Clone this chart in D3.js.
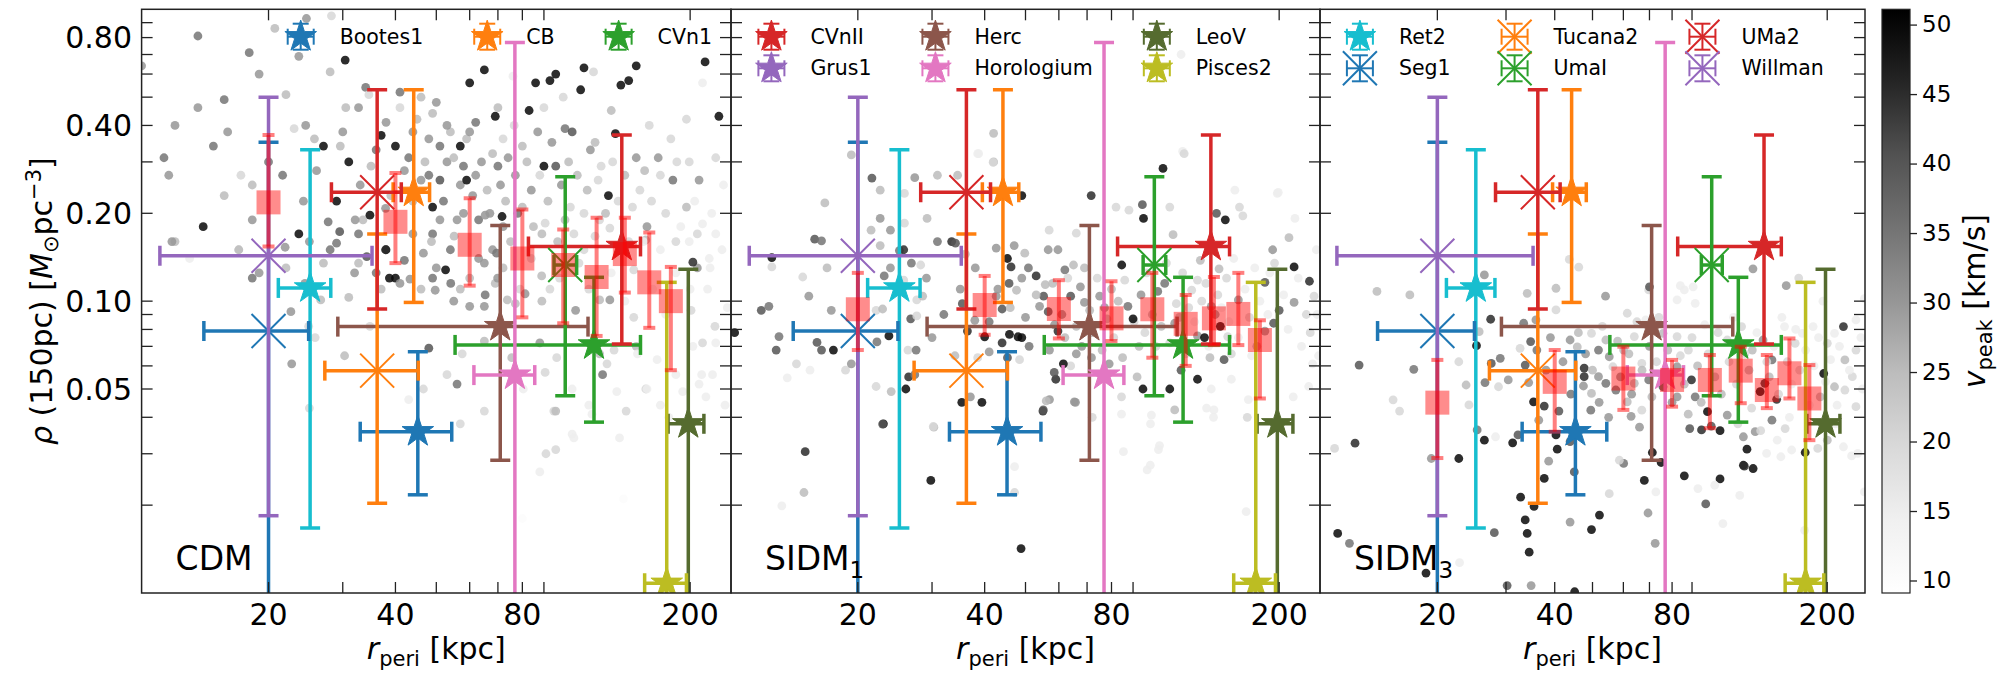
<!DOCTYPE html>
<html>
<head>
<meta charset="utf-8">
<script src="https://cdn.jsdelivr.net/npm/d3@7"></script>
<style>
body { margin: 0; background: #fff; }
svg text { font-family: "DejaVu Sans", sans-serif; fill: #000; }
</style>
</head>
<body>
<div id="chart"></div>
<script>
// observed dwarfs: r_peri [kpc] with range, rho(150pc) with range
const dwarfNames   = ["Bootes1","CB","CVn1","CVnII","Grus1","Herc","Horologium","LeoV","Pisces2","Ret2","Seg1","Tucana2","UmaI","UMa2","Willman"];
const dwarfColors  = ["#1f77b4","#ff7f0e","#2ca02c","#d62728","#9467bd","#8c564b","#e377c2","#556b2f","#bcbd22","#17becf","#1f77b4","#ff7f0e","#2ca02c","#d62728","#9467bd"];
const dwarfMarkers = ["star","star","star","star","star","star","star","star","star","star","x","x","x","x","x"];
const dwarfR     = [45.2, 44.2, 118.3, 137.7, null, 70.9, 76.8, 198, 176, 25.1, 20, 36.2, 101.1, 36.2, 20];
const dwarfRLo   = [33.0, 39.5, 55.4, 82.7, null, 29.2, 61.4, 177.3, 156, 21.1, 14.05, 27.2, 95.1, 28.2, 11.05];
const dwarfRHi   = [54.4, 48.2, 152.5, 152.5, null, 114.5, 85.6, 215.6, 196, 28.1, 24.9, 45.3, 107.6, 41.3, 35.2];
const dwarfRho   = [0.0357, 0.236, 0.0708, 0.154, null, 0.0818, 0.0558, 0.038, 0.0108, 0.111, 0.079, 0.0578, 0.133, 0.236, 0.143];
const dwarfRhoLo = [0.0217, 0.099, 0.0385, 0.0713, null, 0.0285, 0.005, 0.005, 0.003, 0.0167, 0.005, 0.0203, 0.0474, 0.094, 0.0184];
const dwarfRhoHi = [0.0671, 0.53, 0.1207, 0.371, null, 0.1815, 0.77, 0.1286, 0.116, 0.33, 0.35, 0.17, 0.267, 0.53, 0.50];

// simulated medians (red squares)
const simR = [20, 40, 60, 80, 100, 120, 140, 160, 180];
const cdmMed = [0.218, 0.187, 0.156, 0.140, 0.133, 0.121, 0.145, 0.116, 0.100];
const cdmLo  = [0.154, 0.135, 0.113, 0.088, 0.084, 0.076, 0.107, 0.081, 0.058];
const cdmHi  = [0.371, 0.275, 0.225, 0.206, 0.176, 0.193, 0.193, 0.172, 0.131];
const sidm1Med = [0.0938, 0.097, 0.094, 0.0873, 0.0938, 0.0836, 0.0873, 0.0904, 0.0736];
const sidm1Lo  = [0.068, 0.0767, 0.0745, 0.073, 0.064, 0.060, 0.0707, 0.0707, 0.0464];
const sidm1Hi  = [0.125, 0.122, 0.118, 0.117, 0.125, 0.105, 0.121, 0.125, 0.086];
const sidm3Med = [0.0449, 0.0529, 0.0543, 0.0537, 0.0537, 0.0578, 0.0496, 0.0566, 0.0464];
const sidm3Lo  = [0.029, 0.0357, 0.0424, 0.0435, 0.0367, 0.0447, 0.043, 0.0464, 0.0334];
const sidm3Hi  = [0.0629, 0.068, 0.0698, 0.0629, 0.0654, 0.0698, 0.0654, 0.0745, 0.0604];

// simulated subhaloes: [r_peri, rho150, v_peak]
const cdmPts = [
[10,0.64,30],[13.6,0.81,35],[18,0.71,35],[19,0.6,30],[20.7,0.86,25],[23.6,0.69,30],[24.6,0.93,30],[28,0.61,25],[28.2,0.95,20],[22,0.51,25],
[15.7,0.49,35],[13.6,0.46,30],[11.3,0.31,35],[11.6,0.27,30],[14.8,0.34,35],[17.2,0.27,20],[18.3,0.25,25],[15.7,0.23,25],[18.3,0.19,30],[12,0.16,25],
[17,0.15,20],[19,0.125,30],[23,0.39,20],[24.5,0.4,30],[25.7,0.36,25],[21.6,0.27,35],[24.2,0.22,30],[29.6,0.34,25],[30.5,0.46,25],[32.7,0.46,30],
[34,0.54,35],[34.6,0.51,20],[41,0.46,20],[41,0.52,35],[45,0.42,25],[50,0.48,30],[44,0.38,30],[51,0.34,35],[54,0.38,25],[53,0.3,30],
[57,0.25,30],[48,0.27,35],[51,0.26,40],[62,0.27,30],[68,0.32,25],[63,0.19,35],[71,0.25,30],[72,0.36,20],[76,0.59,15],[76.5,0.4,20],
[80,0.34,25],[90,0.46,20],[96,0.29,40],[101,0.39,35],[105,0.38,40],[118,0.61,20],[116,0.33,30],[123,0.29,20],[122,0.19,20],[149,0.31,30],
[156,0.28,25],[168,0.31,30],[170,0.27,20],[182,0.26,35],[196,0.42,20],[199,0.3,20],[210,0.26,30],[214,0.56,15],[230,0.31,20],[196,0.21,25],
[208,0.17,20],[158,0.18,30],[143,0.16,20],[170,0.15,15],[199,0.16,15],[222,0.14,15],[208,0.13,30],[101,0.19,25],[106,0.17,20],[89,0.17,25],
[80,0.21,25],[72,0.18,30],[63,0.14,30],[68,0.15,30],[54,0.15,35],[51,0.19,30],[49,0.17,35],[44,0.17,30],[33.5,0.19,25],[32.7,0.17,35],
[28,0.15,35],[27,0.135,25],[32.7,0.135,25],[37,0.11,25],[46,0.11,25],[50,0.13,30],[57,0.11,25],[69,0.115,25],[79,0.11,20],[93,0.11,20],
[109,0.135,20],[130,0.125,15],[163,0.11,15],[185,0.125,15],[220,0.11,15],[230,0.17,15],
[30.4,0.67,50],[60,0.56,50],[65,0.62,50],[69,0.43,50],[86,0.56,50],[93,0.57,50],[96,0.6,50],[112,0.63,50],[110,0.53,50],[143,0.57,50],
[149,0.64,50],[137,0.55,50],[83,0.45,50],[90,0.29,50],[133,0.375,50],[128,0.23,50],[37,0.37,50],[40,0.34,50],[31,0.3,50],[59,0.26,50],
[14,0.18,50],[27,0.34,50],[217,0.66,50],[234,0.43,50],[40,0.12,50],[38,0.15,50],[23.6,0.17,50],[49,0.21,50],[29,0.22,50],[57,0.34,50],
[11.8,0.16,30],[13,0.14,15],[17,0.15,25],[18.3,0.12,35],[22.6,0.092,30],[22.7,0.061,30],[25.8,0.075,20],[31,0.103,25],[30.3,0.065,25],[48,0.069,40],
[56,0.052,35],[53,0.056,20],[57.6,0.066,20],[65,0.073,25],[88,0.072,30],[95,0.042,20],[124,0.056,35],[141,0.042,20],[157,0.05,20],[201,0.093,20],
[214,0.072,20],[226,0.056,15],[218,0.047,15],[242,0.044,15],[134,0.049,15],[192,0.049,15],[178,0.04,15],[149,0.07,25],[122,0.066,25],[107,0.093,30],
[89,0.1,25],[77,0.098,25],[65,0.096,30],[55,0.1,30],[49,0.12,35],[41,0.115,30],[36,0.125,35],[32,0.125,30],[223,0.13,15],[238,0.15,15],
[185,0.16,20],[105,0.035,15],[115,0.044,15],[57,0.038,20],[91,0.03,20],[96,0.031,20],[88,0.026,15],[106,0.034,15],[136,0.034,15],[139,0.021,10],
[80,0.018,10],[96,0.042,25],[127,0.061,20],[25,0.043,20],[158,0.05,15],[170,0.044,15],[213,0.056,15],[230,0.072,15],
[32.1,0.19,30],[34.8,0.197,50],[37.9,0.208,30],[29.5,0.173,40],[27.7,0.187,35],[29,0.158,35],[34.2,0.142,40],[37.9,0.15,45],[38.7,0.12,50],[42,0.138,35],
[43.3,0.119,30],[46.6,0.146,30],[48.7,0.16,25],[52.6,0.128,50],[49.7,0.109,30],[54.1,0.115,35],[55.1,0.167,25],[58,0.2,30],[65.3,0.197,30],[71.6,0.195,50],
[69.5,0.146,35],[65,0.135,30],[69.9,0.12,30],[65.3,0.105,35],[60,0.096,30],[73.7,0.101,25],[81.2,0.106,30],[88.9,0.122,25],[90.6,0.185,20],[112,0.2,20],
[119,0.167,20],[129,0.178,20],[122,0.101,25],[129,0.101,30],[147,0.128,20],[157,0.162,25],[147,0.088,20],[132,0.068,20],[167,0.063,15],[150,0.066,15],
[185,0.056,15],[210,0.052,15],[203,0.136,45],[214,0.184,15],[203,0.07,15],[229,0.082,20],[46.6,0.05,20],[43,0.046,15],[65,0.042,20],[80.4,0.05,15],
[105,0.05,15],[117,0.041,15],[75.5,0.064,25],[90.6,0.057,20],[96.5,0.064,20],[24.9,0.082,20],[26.6,0.101,25],[21.9,0.153,30],[24.4,0.115,30],[34.8,0.082,20],
[33,0.25,30],[35,0.29,25],[36,0.33,35],[38,0.41,30],[39,0.23,25],[42,0.28,30],[43,0.31,35],[44,0.22,25],[46,0.26,30],[47,0.3,25],
[48,0.36,30],[49,0.44,25],[52,0.22,35],[53,0.4,30],[55,0.31,25],[56,0.19,30],[58,0.29,35],[59,0.36,25],[61,0.23,30],[62,0.41,35],
[64,0.3,30],[66,0.24,25],[67,0.2,30],[70,0.29,35],[73,0.22,25],[74,0.31,30],[75,0.16,25],[77,0.27,30],[78,0.2,35],[82,0.3,25],
[84,0.24,30],[85,0.18,25],[87,0.38,30],[88,0.27,20],[92,0.22,25],[94,0.35,30],[97,0.16,25],[99,0.25,30],[103,0.3,25],[104,0.21,20],
[108,0.27,25],[112,0.15,20],[114,0.24,25],[119,0.35,25],[121,0.26,20],[126,0.2,25],[131,0.3,20],[135,0.22,20],[140,0.27,25],[146,0.21,20],
[152,0.24,20],[155,0.16,15],[162,0.22,20],[175,0.2,20],[186,0.3,20],[190,0.18,15],[205,0.22,15],[225,0.2,15],[240,0.25,15],[60,0.12,25],
[72,0.13,25],[84,0.14,20],[98,0.12,20],[115,0.11,20],[140,0.1,15],[175,0.09,15],[200,0.11,15],[245,0.095,15],[30,0.38,30],[26,0.28,30],
[20,0.3,35],[16,0.38,30],[12,0.4,30],[22,0.13,25],[25,0.16,30],[70,0.46,25],[60,0.38,30],[46,0.5,25],[100,0.5,20],[130,0.45,25],
[160,0.4,20],[180,0.36,20]
];

const sidm1Pts = [
[19.3,0.317,25],[21.6,0.264,40],[16.7,0.217,25],[22.6,0.192,30],[15.8,0.163,40],[16.4,0.161,35],[12.5,0.141,50],[12.5,0.131,20],[14.8,0.121,20],[15.3,0.104,30],
[12.3,0.096,35],[11.8,0.093,40],[10.2,0.078,50],[13,0.0756,35],[12.8,0.068,40],[16,0.0722,40],[16.4,0.068,40],[17.5,0.068,50],[14.3,0.061,20],[15.4,0.058,15],
[13.6,0.0546,15],[18.7,0.058,20],[19.3,0.061,30],[17.3,0.093,30],[16.9,0.13,25],[21.5,0.175,25],[22.6,0.155,25],[23.9,0.175,30],[25.8,0.185,20],[25.1,0.149,35],
[25.7,0.15,45],[26.8,0.135,35],[23.9,0.13,30],[23.1,0.122,35],[25.7,0.118,20],[22.1,0.093,20],[22.9,0.094,25],[23.7,0.076,50],[22.2,0.0725,35],[22.1,0.051,20],
[24,0.049,25],[26,0.05,50],[26.4,0.055,45],[26.3,0.068,20],[27.5,0.068,35],[26.7,0.087,40],[27.6,0.089,20],[27.6,0.101,20],[28.5,0.104,25],[29.1,0.12,30],
[28.2,0.133,20],[30.9,0.27,25],[29.2,0.192,25],[27.3,0.265,30],[25.8,0.234,20],[22.6,0.24,25],[30.9,0.16,35],[33.4,0.16,45],[34.1,0.158,40],[45.3,0.14,50],
[42.6,0.152,30],[45.7,0.115,40],[46.2,0.131,45],[47.6,0.109,25],[42.6,0.104,30],[37.9,0.086,30],[35.4,0.098,40],[36.4,0.079,45],[40,0.0755,50],[44,0.072,45],
[45.8,0.077,50],[48,0.0755,50],[49,0.075,50],[44,0.094,40],[38.5,0.064,20],[41,0.067,30],[45.3,0.064,40],[48.4,0.063,20],[35.3,0.045,50],[39.4,0.045,50],
[37,0.047,30],[30.3,0.037,25],[23,0.038,50],[49,0.23,50],[38.7,0.32,15],[42,0.3,25],[47,0.155,30],[49.8,0.146,25],[50.8,0.13,35],[49,0.12,30],
[53,0.122,45],[55.7,0.114,25],[55.2,0.104,40],[54,0.096,30],[56.6,0.092,40],[58.6,0.083,30],[59.7,0.079,45],[56.6,0.15,30],[56.9,0.175,20],[59.7,0.15,30],
[62,0.128,35],[65,0.133,25],[66,0.171,20],[71.6,0.23,45],[64,0.104,40],[67.5,0.112,30],[69,0.099,30],[71,0.093,25],[75,0.104,30],[78,0.087,25],
[87.5,0.096,35],[90.5,0.085,20],[90,0.087,50],[84.6,0.133,50],[82,0.21,20],[88,0.205,20],[94.7,0.214,40],[95.3,0.192,50],[106,0.285,50],[110,0.21,20],
[118,0.326,15],[142,0.2,40],[149,0.19,50],[157,0.24,15],[161,0.21,20],[164,0.196,20],[144,0.129,25],[130,0.138,25],[112,0.169,25],[128,0.118,20],
[124,0.109,20],[114,0.098,20],[107,0.115,35],[103,0.108,35],[113,0.084,30],[128,0.076,30],[133,0.075,50],[145,0.082,50],[141,0.09,30],[148,0.063,40],
[128,0.054,50],[110,0.05,50],[95,0.05,50],[84.5,0.047,20],[117,0.058,40],[92,0.055,25],[79,0.061,30],[71.7,0.064,30],[66,0.066,30],[64,0.06,20],
[59,0.054,45],[61.5,0.061,50],[58.5,0.057,40],[65.7,0.045,30],[55,0.042,45],[57,0.046,30],[72,0.04,20],[84.5,0.041,15],[99,0.038,15],[104,0.032,15],
[138,0.05,15],[154,0.054,15],[169,0.046,15],[168,0.04,20],[216,0.047,15],[235,0.051,15],[240,0.061,15],[237,0.078,20],[232,0.09,20],[236,0.117,45],
[217,0.131,50],[211,0.165,25],[218,0.192,15],[198,0.234,15],[217,0.099,30],[200,0.093,40],[185,0.116,40],[194,0.084,40],[185,0.079,30],[177,0.07,25],
[193,0.15,30],[195,0.135,20],[172,0.065,15],[242,0.104,20],[245,0.15,15],[154,0.066,20],[160,0.101,30],[151,0.0756,20],[137,0.064,25],[138,0.096,30],
[42,0.376,25],[41.9,0.299,20],[38.5,0.32,15],[34.5,0.27,25],[119,0.32,20],[117,0.7,15],[199,0.236,15],
[29.8,0.0243,50],[48.8,0.0142,50],[15,0.0305,45],[14.9,0.0221,25],[13.2,0.0199,15],[22.9,0.0379,40],[30.2,0.0372,20],[27.3,0.056,35],[55.1,0.0424,40],[65.3,0.0452,30],
[56,0.0455,25],[47.1,0.0271,15],[47.1,0.0221,20],[97.2,0.0264,15],[98.9,0.0274,15],[103.4,0.031,15],[85.4,0.0305,15],[167,0.019,15],[99.5,0.0407,15],[140,0.0424,15],
[139.7,0.04,15],[113,0.0424,25],[134.5,0.043,15],
[41,0.085,35],[43,0.11,30],[46,0.095,25],[50,0.088,30],[51,0.07,35],[53,0.105,25],[57,0.068,30],[58,0.115,25],[61,0.09,30],[62,0.075,25],
[63,0.12,20],[66,0.082,25],[68,0.07,30],[69,0.13,25],[72,0.078,25],[74,0.12,20],[76,0.068,25],[77,0.095,30],[80,0.11,25],[81,0.075,20],
[83,0.1,25],[85,0.064,25],[86,0.118,20],[93,0.07,25],[94,0.105,30],[96,0.078,20],[97,0.125,20],[100,0.09,25],[102,0.07,20],[105,0.082,25],
[108,0.135,20],[110,0.072,20],[116,0.088,25],[118,0.125,20],[120,0.066,20],[122,0.095,20],[126,0.085,15],[131,0.1,20],[134,0.115,20],[136,0.07,15],
[143,0.105,20],[146,0.095,15],[150,0.12,20],[152,0.085,15],[156,0.14,15],[160,0.075,15],[166,0.11,15],[170,0.088,20],[175,0.13,15],[180,0.1,15],
[188,0.09,15],[190,0.125,15],[205,0.105,15],[210,0.08,15],[222,0.12,15],[226,0.07,15],[246,0.09,15],[248,0.065,15],[35,0.11,30],[32,0.09,35],
[30,0.075,30],[34,0.065,25],[38,0.13,30],[36,0.145,25]
];

const sidm3Pts = [
[14,0.108,25],[17,0.105,25],[12.6,0.0604,40],[17.4,0.0584,35],[15.4,0.0459,20],[16,0.042,20],[12.3,0.0326,45],[10.9,0.0313,20],[22.7,0.0289,50],[19.3,0.0289,30],
[25.2,0.0704,50],[22.7,0.062,20],[23.7,0.0516,25],[24.1,0.0441,20],[26.5,0.0526,35],[25.3,0.0362,35],[26.4,0.0334,50],[28.2,0.0343,15],[31.2,0.0327,50],[32.2,0.0348,40],
[30.4,0.0537,30],[28.7,0.0509,20],[27.5,0.0612,40],[29,0.0637,35],[26.4,0.123,30],[25.6,0.0786,25],[27.4,0.0867,45],[34,0.1064,25],[40.3,0.1107,25],[46.1,0.1307,20],
[40.3,0.0933,20],[35.8,0.0862,30],[33.3,0.084,35],[32.6,0.0689,20],[34.7,0.0727,40],[33.6,0.0604,40],[34.3,0.0526,30],[35.3,0.0452,50],[37.6,0.0437,45],[36.4,0.0391,30],
[40.3,0.0348,50],[40.6,0.0311,50],[38.6,0.0283,30],[43.8,0.033,40],[47.4,0.0512,30],[47.6,0.059,45],[47.6,0.0551,45],[49.5,0.0423,35],[44.9,0.026,40],[37.6,0.0247,50],
[32.7,0.0213,50],[35.4,0.0198,50],[33.6,0.0178,50],[49.7,0.0165,50],[52.1,0.0185,50],[43.8,0.0175,30],[55.2,0.0219,20],[60.1,0.0278,35],[58.6,0.0285,20],[67.9,0.0243,50],
[69.4,0.0188,30],[72.4,0.0148,30],[72.7,0.0222,15],[71.2,0.0303,50],[75,0.028,50],[86,0.0252,50],[97.6,0.0202,40],[106.2,0.0246,50],[93.2,0.0228,15],[102.9,0.0234,15],
[108,0.0173,15],[119.3,0.0216,15],[121.9,0.0274,50],[129.1,0.0267,50],[124.5,0.0311,50],[98.6,0.0418,50],[106.2,0.036,50],[95.2,0.0362,45],[100.8,0.0373,40],[88.8,0.0366,40],
[110.8,0.0407,30],[121.9,0.0343,30],[130.7,0.0357,30],[144.3,0.0391,35],[148.4,0.0461,45],[134.6,0.049,50],[138.4,0.0523,45],[148.9,0.0334,15],[156,0.0366,20],[175.6,0.0303,50],
[189.1,0.0313,20],[200.1,0.0334,25],[220.1,0.0317,15],[239.6,0.0301,15],[162.1,0.0309,15],[152.1,0.0293,15],[139.8,0.0301,15],
[43.8,0.0736,30],[45.7,0.0697,25],[49.7,0.0776,20],[51.8,0.068,35],[54.1,0.0736,25],[55.2,0.0645,30],[56.4,0.0596,20],[54.1,0.0523,35],[49.7,0.0483,25],[51.8,0.0551,30],
[57.4,0.0496,35],[61.4,0.0452,25],[62.8,0.0403,30],[66.9,0.0423,20],[64,0.0523,25],[69.7,0.0537,35],[66.9,0.0612,20],[60.1,0.068,25],[64,0.0756,20],[68.5,0.0862,15],
[61.4,0.0909,20],[69.7,0.1093,20],[82.4,0.101,15],[86,0.1093,15],[91.7,0.0983,15],[75.8,0.0776,25],[82.4,0.0756,20],[88.1,0.068,20],[82.4,0.0596,30],[75.8,0.0509,40],
[82.4,0.047,30],[89.7,0.0537,45],[91.7,0.047,35],[110.8,0.0736,20],[120.6,0.0818,20],[128.5,0.068,25],[136.9,0.0736,30],[144.3,0.0629,35],[155.4,0.0818,15],[165.5,0.0717,20],
[172.7,0.0776,15],[184,0.0818,15],[200.1,0.0717,20],[208.8,0.0776,15],[220.1,0.0818,45],[237,0.0862,15],[237,0.068,20],[222,0.0629,25],[232,0.0551,20],[222,0.0496,20],
[237,0.0435,20],[208.8,0.0509,25],[191.9,0.047,25],[195.9,0.0565,50],
[43.6,0.139,20],[54,0.104,30],[70,0.112,40],[84,0.113,15],[90.6,0.112,15],[129,0.129,30],[157,0.113,30],[169,0.12,20],[195,0.1,15],[249,0.102,15],
[11.1,0.016,50],[11.9,0.0148,35],[18.7,0.0117,50],[22.8,0.0127,15],[28,0.0161,40],[34,0.016,50],[34.4,0.0138,50],[30.2,0.0106,40],[34.8,0.0106,30],[45,0.0101,50],
[122.6,0.0272,45],[175,0.0164,15],[231,0.0295,15],[249,0.0222,15],
[42,0.062,30],[44,0.048,35],[46,0.078,25],[48,0.066,30],[50,0.058,25],[52,0.045,30],[53,0.082,20],[58,0.073,25],[59,0.055,30],[62,0.066,25],
[63,0.048,30],[65,0.085,20],[67,0.058,25],[70,0.07,30],[71,0.047,25],[73,0.062,20],[74,0.088,20],[77,0.055,25],[78,0.068,25],[80,0.045,30],
[84,0.065,20],[86,0.052,25],[90,0.075,20],[93,0.06,25],[95,0.045,25],[97,0.083,15],[99,0.066,20],[103,0.055,25],[105,0.078,20],[107,0.048,25],
[112,0.062,20],[115,0.088,15],[117,0.052,20],[123,0.066,20],[126,0.058,25],[128,0.043,20],[132,0.078,15],[140,0.062,20],[142,0.055,25],[146,0.07,15],
[150,0.048,20],[153,0.088,15],[158,0.062,20],[162,0.052,15],[166,0.08,15],[170,0.058,20],[176,0.068,15],[180,0.044,15],[185,0.06,15],[190,0.075,15],
[198,0.053,15],[204,0.063,15],[212,0.044,15],[215,0.07,15],[228,0.058,15],[244,0.075,15],[246,0.05,15],[38,0.058,30],[36,0.068,35],[39,0.075,30],
[41,0.042,40],[55,0.04,30],[66,0.037,30],[88,0.041,25],[118,0.038,20],[135,0.036,20],[160,0.04,15],[210,0.038,15]
];

// colorbar range and ticks
const vMin = 9.1, vMax = 51.1;
const cbTicks = [10, 15, 20, 25, 30, 35, 40, 45, 50];
const greySteps = ["#ffffff","#f0f0f0","#d9d9d9","#bdbdbd","#969696","#737373","#525252","#252525","#000000"];

const xTickVals = [20, 30, 40, 50, 60, 70, 80, 90, 200];
const xTickLabels = [20, 40, 80, 200];
const yTickVals = [0.02,0.03,0.04,0.05,0.06,0.07,0.08,0.09,0.1,0.2,0.3,0.4,0.5,0.6,0.7,0.8,0.9];
const yTickLabels = [0.05, 0.10, 0.20, 0.40, 0.80];

const plotTop = 9.3, plotBottom = 593;
const panels = [
  {label: "CDM", sub: "", x0: 141.6, x1: 731, pts: cdmPts, med: cdmMed, lo: cdmLo, hi: cdmHi, legend: [0, 1, 2], legX: 300.7},
  {label: "SIDM", sub: "1", x0: 731, x1: 1320, pts: sidm1Pts, med: sidm1Med, lo: sidm1Lo, hi: sidm1Hi, legend: [3, 4, 5, 6, 7, 8], legX: 771.4},
  {label: "SIDM", sub: "3", x0: 1320, x1: 1865, pts: sidm3Pts, med: sidm3Med, lo: sidm3Lo, hi: sidm3Hi, legend: [9, 10, 11, 12, 13, 14], legX: 1359.9}
];

const grey = d3.scaleLinear()
  .domain(greySteps.map((_, i) => vMin + i * (vMax - vMin) / 8))
  .range(greySteps).clamp(true);

const svg = d3.select("#chart").append("svg")
  .attr("width", 2000).attr("height", 673)
  .style("background", "#fff");

const y = d3.scaleLog().domain([0.01, 1]).range([plotBottom, plotTop]);
const starPath = d3.symbol(d3.symbolStar, 310)();

function drawMarker(g, type, color, cx, cy) {
  if (type === "star") {
    g.append("path").attr("d", starPath)
      .attr("transform", `translate(${cx},${cy})`)
      .attr("fill", color).attr("stroke", color).attr("stroke-width", 1);
  } else {
    g.append("path").attr("d", "M-17,-17L17,17M-17,17L17,-17")
      .attr("transform", `translate(${cx},${cy})`)
      .attr("fill", "none").attr("stroke", color).attr("stroke-width", 2);
  }
}

panels.forEach((p, i) => {
  const x = d3.scaleLog().domain([10, 250]).range([p.x0, p.x1]);
  const clipId = "clip" + i;
  svg.append("clipPath").attr("id", clipId).append("rect")
    .attr("x", p.x0).attr("y", plotTop)
    .attr("width", p.x1 - p.x0).attr("height", plotBottom - plotTop);
  const g = svg.append("g");

  // legend (errorbar style handles)
  const rows = p.legend.length > 3 ? 2 : 1;
  let colX = p.legX;
  for (let c = 0; c * rows < p.legend.length; c++) {
    let maxW = 0;
    for (let r = 0; r < rows; r++) {
      const k = p.legend[c * rows + r];
      if (k === undefined) continue;
      const ly = 36.7 + r * 31.6;
      const h = g.append("g").attr("stroke", dwarfColors[k]).attr("stroke-width", 2);
      h.append("line").attr("x1", colX - 13).attr("x2", colX + 13).attr("y1", ly).attr("y2", ly);
      h.append("line").attr("x1", colX).attr("x2", colX).attr("y1", ly - 13).attr("y2", ly + 13);
      [-13, 13].forEach(d => {
        h.append("line").attr("x1", colX + d).attr("x2", colX + d).attr("y1", ly - 8).attr("y2", ly + 8);
        h.append("line").attr("x1", colX - 8).attr("x2", colX + 8).attr("y1", ly + d).attr("y2", ly + d);
      });
      drawMarker(g, dwarfMarkers[k], dwarfColors[k], colX, ly);
      const t = g.append("text").attr("x", colX + 39).attr("y", ly)
        .attr("dominant-baseline", "central").attr("font-size", 20.5)
        .text(dwarfNames[k]);
      maxW = Math.max(maxW, t.node().getComputedTextLength());
    }
    colX += 39 + maxW + 64;
  }

  const inner = g.append("g").attr("clip-path", `url(#${clipId})`);

  // subhalo scatter
  inner.selectAll("circle.pt").data(p.pts).join("circle")
    .attr("class", "pt")
    .attr("cx", d => x(d[0])).attr("cy", d => y(d[1]))
    .attr("r", 4.4)
    .attr("fill", d => grey(d[2]))
    .attr("fill-opacity", 0.85);

  // observed dwarfs
  dwarfNames.forEach((name, k) => {
    if (dwarfR[k] == null) return;
    const c = dwarfColors[k], cx = x(dwarfR[k]), cy = y(dwarfRho[k]);
    const e = inner.append("g").attr("stroke", c).attr("stroke-width", 3.5);
    e.append("line").attr("x1", x(dwarfRLo[k])).attr("x2", x(dwarfRHi[k])).attr("y1", cy).attr("y2", cy);
    e.append("line").attr("x1", cx).attr("x2", cx).attr("y1", y(dwarfRhoLo[k])).attr("y2", y(dwarfRhoHi[k]));
    [dwarfRLo[k], dwarfRHi[k]].forEach(v => e.append("line")
      .attr("x1", x(v)).attr("x2", x(v)).attr("y1", cy - 10).attr("y2", cy + 10));
    [dwarfRhoLo[k], dwarfRhoHi[k]].forEach(v => e.append("line")
      .attr("x1", cx - 10).attr("x2", cx + 10).attr("y1", y(v)).attr("y2", y(v)));
    drawMarker(inner, dwarfMarkers[k], c, cx, cy);
  });

  // simulated medians
  simR.forEach((r, k) => {
    const cx = x(r);
    const s = inner.append("g").attr("stroke", "#ff0000").attr("stroke-opacity", 0.5).attr("stroke-width", 4);
    s.append("line").attr("x1", cx).attr("x2", cx).attr("y1", y(p.lo[k])).attr("y2", y(p.hi[k]));
    [p.lo[k], p.hi[k]].forEach(v => s.append("line")
      .attr("x1", cx - 6).attr("x2", cx + 6).attr("y1", y(v)).attr("y2", y(v)));
    inner.append("rect")
      .attr("x", cx - 12).attr("y", y(p.med[k]) - 12)
      .attr("width", 24).attr("height", 24)
      .attr("fill", "#ff0000").attr("fill-opacity", 0.45);
  });

  // ticks (inward, all sides)
  const tk = g.append("g").attr("stroke", "#222").attr("stroke-width", 1.3);
  xTickVals.forEach(v => {
    tk.append("line").attr("x1", x(v)).attr("x2", x(v)).attr("y1", plotBottom).attr("y2", plotBottom - 11);
    tk.append("line").attr("x1", x(v)).attr("x2", x(v)).attr("y1", plotTop).attr("y2", plotTop + 11);
  });
  yTickVals.forEach(v => {
    tk.append("line").attr("x1", p.x0).attr("x2", p.x0 + 11).attr("y1", y(v)).attr("y2", y(v));
    tk.append("line").attr("x1", p.x1).attr("x2", p.x1 - 11).attr("y1", y(v)).attr("y2", y(v));
  });
  g.append("rect").attr("x", p.x0).attr("y", plotTop)
    .attr("width", p.x1 - p.x0).attr("height", plotBottom - plotTop)
    .attr("fill", "none").attr("stroke", "#222").attr("stroke-width", 1.5);

  // x tick labels
  xTickLabels.forEach(v => {
    g.append("text").attr("x", x(v)).attr("y", 625)
      .attr("text-anchor", "middle").attr("font-size", 30).text(v);
  });

  // x label
  const xl = g.append("text").attr("x", (p.x0 + p.x1) / 2).attr("y", 659)
    .attr("text-anchor", "middle").attr("font-size", 30);
  xl.append("tspan").attr("font-style", "italic").text("r");
  xl.append("tspan").attr("font-size", 21).attr("dy", 7).text("peri");
  xl.append("tspan").attr("dy", -7).text(" [kpc]");

  // panel label
  const pl = g.append("text").attr("x", p.x0 + 34).attr("y", 570).attr("font-size", 33);
  pl.append("tspan").text(p.label);
  if (p.sub) pl.append("tspan").attr("font-size", 23).attr("dy", 8).text(p.sub);
});

// y tick labels (shared)
yTickLabels.forEach(v => {
  svg.append("text").attr("x", 132).attr("y", y(v))
    .attr("text-anchor", "end").attr("dominant-baseline", "central")
    .attr("font-size", 30).text(v.toFixed(2));
});

// y label
const yl = svg.append("text")
  .attr("transform", `translate(52,${(plotTop + plotBottom) / 2}) rotate(-90)`)
  .attr("text-anchor", "middle").attr("font-size", 30);
yl.append("tspan").attr("font-style", "italic").text("ρ");
yl.append("tspan").text(" (150pc) [");
yl.append("tspan").attr("font-style", "italic").text("M");
yl.append("tspan").attr("font-size", 21).attr("dy", 6).text("⊙");
yl.append("tspan").attr("dy", -6).text("pc");
yl.append("tspan").attr("font-size", 21).attr("dy", -11).text("−3");
yl.append("tspan").attr("dy", 11).text("]");

// colorbar
const cbX = 1882, cbW = 28;
const grad = svg.append("defs").append("linearGradient").attr("id", "cbGrad")
  .attr("x1", 0).attr("y1", 1).attr("x2", 0).attr("y2", 0);
greySteps.forEach((c, i) => grad.append("stop").attr("offset", i / 8).attr("stop-color", c));
svg.append("rect").attr("x", cbX).attr("y", plotTop).attr("width", cbW)
  .attr("height", plotBottom - plotTop).attr("fill", "url(#cbGrad)")
  .attr("stroke", "#222").attr("stroke-width", 1.2);
const cy = d3.scaleLinear().domain([vMin, vMax]).range([plotBottom, plotTop]);
const cbAxis = svg.append("g").attr("transform", `translate(${cbX + cbW},0)`)
  .call(d3.axisRight(cy).tickValues(cbTicks).tickSize(7).tickPadding(5));
cbAxis.select(".domain").remove();
cbAxis.selectAll("line").attr("stroke", "#222").attr("stroke-width", 1.3);
cbAxis.selectAll("text").attr("font-size", 23).attr("font-family", "DejaVu Sans").attr("fill", "#000");

const cl = svg.append("text")
  .attr("transform", `translate(1985,${(plotTop + plotBottom) / 2}) rotate(-90)`)
  .attr("text-anchor", "middle").attr("font-size", 30);
cl.append("tspan").attr("font-style", "italic").text("v");
cl.append("tspan").attr("font-size", 21).attr("dy", 7).text("peak");
cl.append("tspan").attr("dy", -7).text(" [km/s]");
</script>
</body>
</html>
